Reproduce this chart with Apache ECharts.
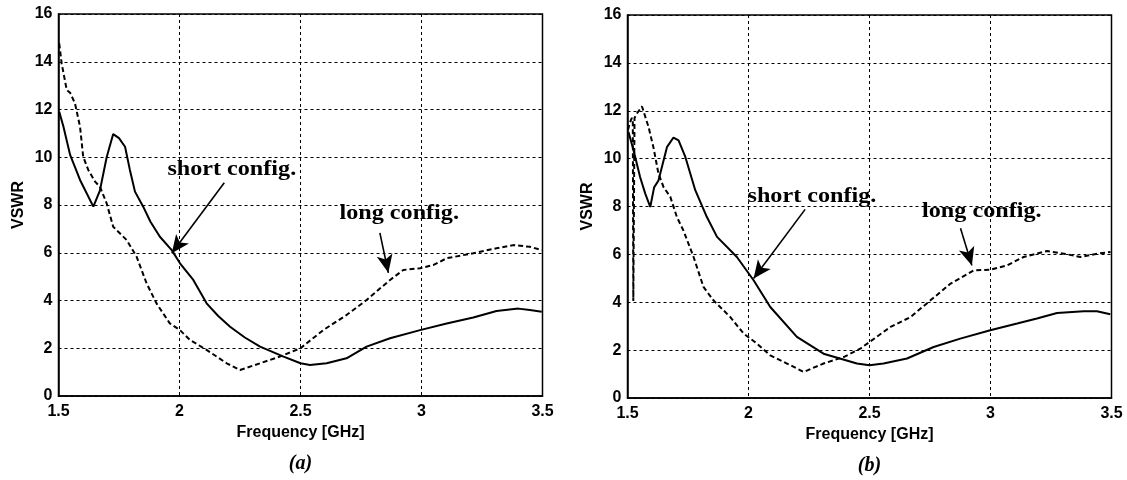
<!DOCTYPE html>
<html>
<head>
<meta charset="utf-8">
<script src="https://cdn.jsdelivr.net/npm/echarts@6/dist/echarts.min.js"></script>
<style>
html,body{margin:0;padding:0;background:#fff;}
#chart{width:1127px;height:480px;}
</style>
</head>
<body>
<div id="chart"></div>
<script>
// ---- data ----
const xTicks = [1.5, 2, 2.5, 3, 3.5];
const yTicks = [0, 2, 4, 6, 8, 10, 12, 14, 16];

// (a) short configuration (solid)
const aShortF = [1.503,1.52,1.548,1.589,1.644,1.671,1.699,1.726,1.75,1.775,1.795,1.816,1.85,1.88,1.919,1.968,2.002,2.057,2.112,2.16,2.209,2.27,2.333,2.43,2.5,2.539,2.608,2.69,2.773,2.87,2.994,3.104,3.214,3.31,3.40,3.448,3.497];
const aShortV = [11.9,11.3,10.1,9.05,7.93,8.6,10.0,10.97,10.8,10.44,9.47,8.56,7.93,7.3,6.67,6.11,5.56,4.86,3.88,3.35,2.9,2.45,2.07,1.65,1.37,1.30,1.37,1.58,2.07,2.42,2.76,3.04,3.29,3.56,3.66,3.6,3.53];
// (a) long configuration (dashed)
const aLongF = [1.503,1.513,1.534,1.548,1.568,1.589,1.602,1.623,1.651,1.671,1.699,1.726,1.782,1.823,1.864,1.905,1.96,2.002,2.043,2.112,2.195,2.25,2.333,2.415,2.5,2.594,2.69,2.773,2.87,2.925,2.994,3.05,3.104,3.214,3.31,3.38,3.448,3.497];
const aLongV = [14.77,13.93,12.82,12.7,12.26,11.28,10.02,9.47,8.98,8.77,8.07,7.09,6.53,5.83,4.72,3.88,3.04,2.76,2.35,1.93,1.37,1.09,1.37,1.65,2.0,2.76,3.39,4.02,4.86,5.28,5.35,5.49,5.77,5.98,6.19,6.32,6.25,6.11];
// (b) short configuration (solid)
const bShortF = [1.504,1.525,1.552,1.573,1.594,1.61,1.628,1.663,1.69,1.711,1.739,1.78,1.828,1.87,1.952,2.021,2.09,2.2,2.31,2.448,2.5,2.558,2.655,2.765,2.875,2.999,3.11,3.192,3.275,3.385,3.44,3.495];
const bShortV = [11.11,10.35,9.23,8.55,7.98,8.8,9.09,10.48,10.88,10.76,10.07,8.68,7.56,6.73,5.89,4.92,3.80,2.55,1.85,1.44,1.37,1.44,1.65,2.13,2.48,2.83,3.11,3.32,3.55,3.62,3.62,3.5];
// (b) long configuration (dashed)
const bLongF = [1.502,1.51,1.518,1.522,1.524,1.527,1.529,1.54,1.56,1.587,1.607,1.628,1.649,1.677,1.704,1.731,1.773,1.814,1.855,1.925,1.98,2.035,2.09,2.159,2.228,2.31,2.393,2.462,2.5,2.587,2.669,2.752,2.835,2.931,2.999,3.068,3.137,3.234,3.303,3.372,3.441,3.496];
const bLongV = [11.2,11.5,11.7,11.6,4.05,4.1,11.7,11.9,12.18,11.32,10.48,9.37,8.81,8.4,7.56,7.0,5.89,4.64,4.08,3.38,2.69,2.27,1.78,1.44,1.09,1.44,1.71,2.06,2.34,2.97,3.38,4.08,4.78,5.33,5.36,5.54,5.89,6.14,6.03,5.89,6.03,6.1];

// annotations (data coordinates): [textX, textY, arrowFromX, arrowFromY, arrowToX, arrowToY]
const annShortA = [2.216, 9.47, 2.185, 8.93, 1.968, 5.98];
const annLongA  = [2.908, 7.66, 2.828, 6.83, 2.863, 5.16];
const annShortB = [2.262, 8.40, 2.234, 7.88, 2.021, 4.99];
const annLongB  = [2.964, 7.77, 2.876, 7.09, 2.923, 5.54];
const labelShort = 'short config.';
const labelLong = 'long config.';
const captions = ['(a)', '(b)'];
const xName = 'Frequency [GHz]';
const yName = 'VSWR';

const zip = (f, v) => f.map((x, i) => [x, v[i]]);

const chart = echarts.init(document.getElementById('chart'), null, {renderer: 'canvas'});

const tickFont = {color: '#000', fontFamily: 'Liberation Sans, Arial', fontWeight: 'bold', fontSize: 16};

function xAxis(gi) {
  return {
    type: 'value', gridIndex: gi, min: 1.5, max: 3.5, interval: 0.5,
    name: xName, nameLocation: 'middle', nameGap: 29,
    nameTextStyle: {color: '#000', fontFamily: 'Liberation Sans, Arial', fontWeight: 'bold', fontSize: 16},
    axisLine: {show: true, lineStyle: {color: '#000', width: 1.5}},
    axisTick: {show: false},
    axisLabel: Object.assign({margin: 8, formatter: v => String(v)}, tickFont),
    splitLine: {show: true, lineStyle: {color: '#000', type: [3, 3], width: 1}}
  };
}
function yAxis(gi) {
  return {
    type: 'value', gridIndex: gi, min: 0, max: 16, interval: 2,
    name: yName, nameLocation: 'middle', nameGap: 32, nameRotate: 90,
    nameTextStyle: {color: '#000', fontFamily: 'Liberation Sans, Arial', fontWeight: 'bold', fontSize: 16},
    axisLine: {show: true, lineStyle: {color: '#000', width: 1.5}},
    axisTick: {show: false},
    axisLabel: Object.assign({margin: 6}, tickFont),
    splitLine: {show: true, lineStyle: {color: '#000', type: [3, 3], width: 1}}
  };
}

function arrowLine(ann) {
  return {
    silent: true, animation: false,
    symbol: ['none', 'arrow'], symbolSize: [12, 18],
    lineStyle: {color: '#000', width: 1.6, type: 'solid'},
    label: {show: false},
    data: [[{coord: [ann[2], ann[3]]}, {coord: [ann[4], ann[5]]}]]
  };
}

function lineSeries(gi, f, v, dashed, ann) {
  return {
    type: 'line', xAxisIndex: gi, yAxisIndex: gi,
    data: zip(f, v), showSymbol: false, symbol: 'none',
    lineStyle: {color: '#000', width: 2, type: dashed ? [5, 3] : 'solid'},
    markLine: arrowLine(ann),
    z: 3
  };
}

chart.setOption({
  animation: false,
  backgroundColor: '#fff',
  grid: [
    {left: 58.5, top: 14, width: 484, height: 382, show: true, borderColor: '#000', borderWidth: 1.5, backgroundColor: 'transparent'},
    {left: 627.5, top: 15, width: 484, height: 383, show: true, borderColor: '#000', borderWidth: 1.5, backgroundColor: 'transparent'}
  ],
  xAxis: [xAxis(0), xAxis(1)],
  yAxis: [yAxis(0), yAxis(1)],
  series: [
    lineSeries(0, aShortF, aShortV, false, annShortA),
    lineSeries(0, aLongF, aLongV, true, annLongA),
    lineSeries(1, bShortF, bShortV, false, annShortB),
    lineSeries(1, bLongF, bLongV, true, annLongB)
  ]
});

function annText(gi, ann, txt) {
  const p = chart.convertToPixel({gridIndex: gi}, [ann[0], ann[1]]);
  return {
    type: 'text', x: p[0], y: p[1], scaleX: 1.15, z: 10,
    style: {text: txt, fill: '#000', fontFamily: 'Liberation Serif, Times New Roman', fontWeight: 'bold', fontSize: 21, align: 'center', verticalAlign: 'middle'}
  };
}
function caption(gi, txt) {
  const p = chart.convertToPixel({gridIndex: gi}, [2.5, 0]);
  return {
    type: 'text', x: p[0], y: p[1] + 68, z: 10,
    style: {text: txt, fill: '#000', fontFamily: 'Liberation Serif, Times New Roman', fontWeight: 'bold', fontStyle: 'italic', fontSize: 20, align: 'center', verticalAlign: 'middle'}
  };
}

chart.setOption({
  graphic: [
    annText(0, annShortA, labelShort),
    annText(0, annLongA, labelLong),
    annText(1, annShortB, labelShort),
    annText(1, annLongB, labelLong),
    caption(0, captions[0]),
    caption(1, captions[1])
  ]
});
</script>
</body>
</html>
